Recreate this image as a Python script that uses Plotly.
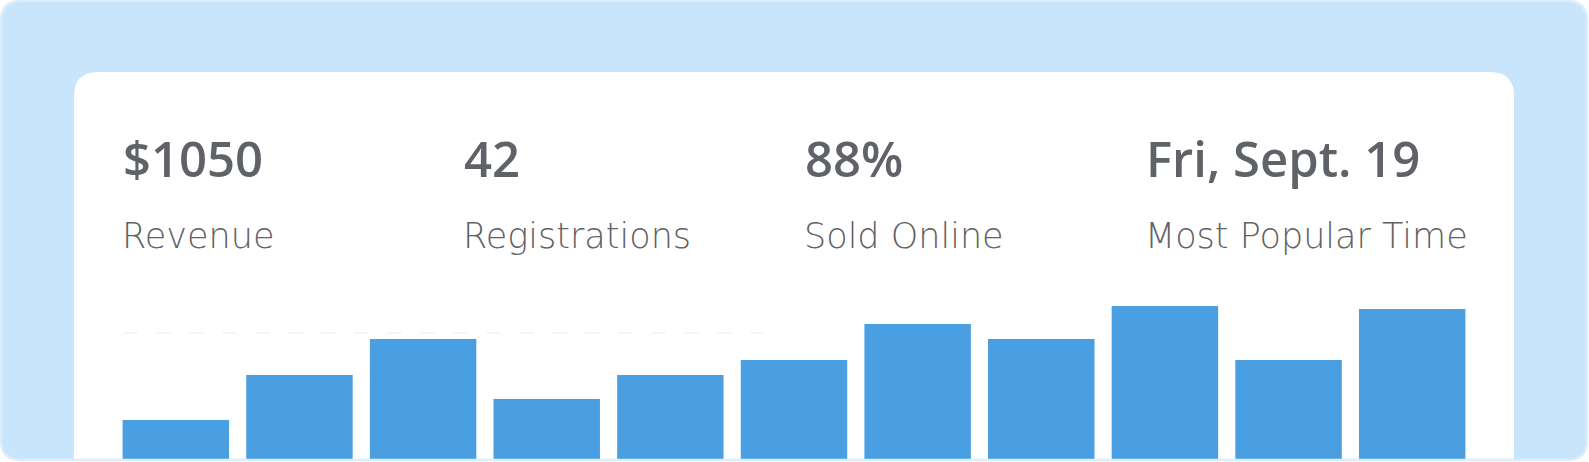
import plotly.graph_objects as go

# ---- data ----
slots = list(range(1, 12))
bar_values = [39, 84, 120, 60, 84, 99, 135, 120, 153, 99, 150]
target_value = 126
stat_values = ["$1050", "42", "88%", "Fri, Sept. 19"]
stat_labels = ["Revenue", "Registrations", "Sold Online", "Most Popular Time"]

# ---- layout constants ----
W, H = 1589, 462
BAR = "#4A9EE2"
TEXT = "#5F6266"
OUTER = "#C8E5FC"
BORDER = "#DCEDFB"
FONT_NUM = "Open Sans"
FONT_LBL = "DejaVu Sans"


def px(x):
    return x / W


def py(y):
    return 1 - y / H


def rounded_rect(x0, y0, x1, y1, r, bottom_round=True):
    if bottom_round:
        p = (f"M {px(x0 + r)},{py(y0)} L {px(x1 - r)},{py(y0)} "
             f"Q {px(x1)},{py(y0)} {px(x1)},{py(y0 + r)} "
             f"L {px(x1)},{py(y1 - r)} Q {px(x1)},{py(y1)} {px(x1 - r)},{py(y1)} "
             f"L {px(x0 + r)},{py(y1)} Q {px(x0)},{py(y1)} {px(x0)},{py(y1 - r)} "
             f"L {px(x0)},{py(y0 + r)} Q {px(x0)},{py(y0)} {px(x0 + r)},{py(y0)} Z")
    else:
        p = (f"M {px(x0 + r)},{py(y0)} L {px(x1 - r)},{py(y0)} "
             f"Q {px(x1)},{py(y0)} {px(x1)},{py(y0 + r)} "
             f"L {px(x1)},{py(y1)} L {px(x0)},{py(y1)} "
             f"L {px(x0)},{py(y0 + r)} Q {px(x0)},{py(y0)} {px(x0 + r)},{py(y0)} Z")
    return p


fig = go.Figure()
fig.add_trace(go.Bar(x=slots, y=bar_values, marker=dict(color=BAR, line=dict(width=0)),
                     hoverinfo="skip"))

shapes = [
    dict(type="path", xref="paper", yref="paper", layer="below",
         path=rounded_rect(1, 1, 1587, 460, 20), fillcolor=OUTER, line=dict(width=0)),
    dict(type="path", xref="paper", yref="paper", layer="below",
         path=rounded_rect(74, 72, 1514, 459, 24, bottom_round=False),
         fillcolor="white", line=dict(width=0)),
    dict(type="line", xref="paper", yref="y", layer="below",
         x0=px(123), x1=px(763), y0=target_value, y1=target_value,
         line=dict(color="#EEEEEE", width=1.2, dash="15px,18px")),
    dict(type="path", xref="paper", yref="paper", layer="above",
         path=rounded_rect(1, 1, 1587, 460, 20), fillcolor="rgba(0,0,0,0)",
         line=dict(color=BORDER, width=2.5)),
]

annotations = []
xs = [121, 462, 803, 1144]
for x, v, l in zip(xs, stat_values, stat_labels):
    annotations.append(dict(x=px(x), y=py(158), xref="paper", yref="paper",
                            xanchor="left", yanchor="middle", showarrow=False, text=v,
                            font=dict(family=FONT_NUM, size=49, color=TEXT, weight=600)))
    annotations.append(dict(x=px(x - 1), y=py(235.5), xref="paper", yref="paper",
                            xanchor="left", yanchor="middle", showarrow=False, text=l,
                            font=dict(family=FONT_LBL, size=35, color=TEXT, weight=200)))

fig.update_layout(
    width=W, height=H, margin=dict(l=0, r=0, t=0, b=0),
    paper_bgcolor="white", plot_bgcolor="rgba(0,0,0,0)",
    showlegend=False, bargap=0.139,
    shapes=shapes, annotations=annotations,
    xaxis=dict(domain=[px(114), px(1474)], range=[0.5, 11.5], visible=False, fixedrange=True),
    yaxis=dict(domain=[0, 1], range=[-3, 459], visible=False, fixedrange=True),
)

fig.write_html("out.html", config={"displayModeBar": False},
               post_script="document.body.style.margin='0';document.body.style.overflow='hidden';")
